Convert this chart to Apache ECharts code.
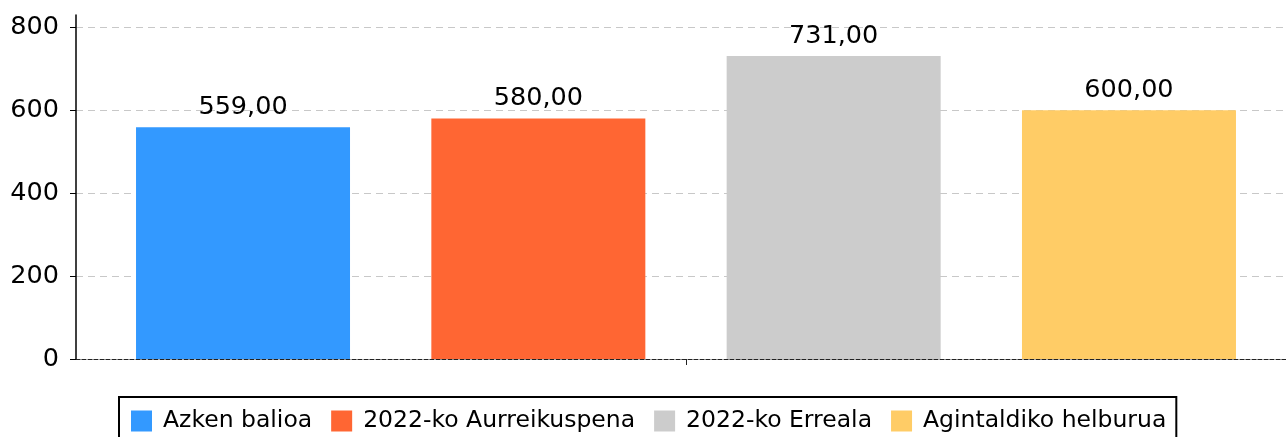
<!DOCTYPE html>
<html>
<head>
<meta charset="utf-8">
<script src="https://cdn.jsdelivr.net/npm/echarts@6/dist/echarts.min.js"></script>
<style>html,body{margin:0;padding:0;background:#fff}#c{width:1286px;height:437px}</style>
</head>
<body>
<div id="c"></div>
<script>
const categories = [''];
const seriesNames = ['Azken balioa', '2022-ko Aurreikuspena', '2022-ko Erreala', 'Agintaldiko helburua'];
const seriesValues = [559, 580, 731, 600];
const seriesColors = ['#3399FF', '#FF6633', '#CCCCCC', '#FFCC66'];
const yTicks = [0, 200, 400, 600, 800];

const FONT = 'DejaVu Sans';
const chart = echarts.init(document.getElementById('c'), null, {renderer: 'canvas'});
chart.setOption({
  animation: false,
  textStyle: {fontFamily: FONT},
  grid: {left: 76, right: -10, top: 15, bottom: 78, containLabel: false, outerBoundsMode: 'none'},
  legend: {
    left: 119, top: 397,
    itemWidth: 21, itemHeight: 21, itemGap: 19,
    padding: [12, 10, 10, 12],
    borderColor: '#000', borderWidth: 2,
    icon: 'rect',
    textStyle: {fontSize: 23.5, color: '#000', fontFamily: FONT, padding: [0, 0, 0, 6]},
    data: seriesNames
  },
  xAxis: {
    type: 'category', data: categories,
    axisLine: {lineStyle: {color: '#222', type: 'dashed', width: 1}},
    axisTick: {show: true, alignWithLabel: true, length: 6, lineStyle: {color: '#222'}},
    axisLabel: {show: false},
    splitLine: {show: false}
  },
  yAxis: {
    type: 'value', min: 0, max: 830,
    axisLine: {show: true, lineStyle: {color: '#000', width: 1.5}},
    axisTick: {show: true, length: 6, lineStyle: {color: '#000'}, customValues: yTicks},
    axisLabel: {fontSize: 25.5, color: '#000', fontFamily: FONT, margin: 17, customValues: yTicks},
    splitLine: {show: true, lineStyle: {color: '#c8c8c8', type: [7, 5], width: 1}}
  },
  series: seriesNames.map((name, i) => ({
    name: name,
    type: 'bar',
    data: [seriesValues[i]],
    barWidth: 214,
    barGap: '38%',
    itemStyle: {color: seriesColors[i]},
    label: {
      show: true, position: 'top', distance: 7,
      fontSize: 25.5, color: '#000', fontFamily: FONT,
      formatter: p => p.value.toFixed(2).replace('.', ',')
    }
  }))
});
</script>
</body>
</html>
